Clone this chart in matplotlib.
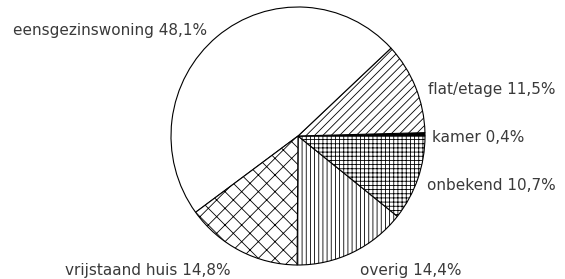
import numpy as np
import matplotlib
matplotlib.use('Agg')
import matplotlib.pyplot as plt

plt.rcParams['hatch.linewidth'] = 0.6
plt.rcParams['font.family'] = ['DejaVu Sans']

# slices, counterclockwise starting straight down
labels = ['overig', 'onbekend', 'kamer', 'flat/etage', 'eensgezinswoning', 'vrijstaand huis']
values = [14.4, 10.7, 0.4, 11.5, 48.1, 14.8]
hatches = ['||||', '++++', '', '////', '', 'xx']
fills = ['white', 'white', 'black', 'white', 'white', 'white']

W, H = 565, 279
fig = plt.figure(figsize=(W / 100, H / 100), dpi=100)
ax = fig.add_axes([0, 0, 1, 1])

wedges, _ = ax.pie(values, startangle=-90.4, counterclock=True, radius=1,
                   colors=fills, wedgeprops=dict(edgecolor='black', linewidth=0.8))
for w, h in zip(wedges, hatches):
    w.set_hatch(h)

# pie centre at pixel (298, 136), radius ~127 px wide, ~129 px tall
cx, cy, rx, ry = 298, 136, 127, 129
ax.set_xlim(-cx / rx, (W - cx) / rx)
ax.set_ylim(-(H - cy) / ry, cy / ry)
ax.set_aspect('auto')
ax.axis('off')

# label positions in pixels (left, middle)
label_pos = {
    'eensgezinswoning': (13, 30),
    'flat/etage': (428, 90),
    'kamer': (432, 138),
    'onbekend': (427, 186),
    'overig': (360, 270),
    'vrijstaand huis': (65, 270),
}
for lab, val in zip(labels, values):
    px, py = label_pos[lab]
    txt = f'{lab} {val:.1f}%'.replace('.', ',')
    fig.text(px / W, 1 - py / H, txt, ha='left', va='center',
             fontsize=11, color='#3a3a3a')

fig.savefig('out.png', dpi=100)
